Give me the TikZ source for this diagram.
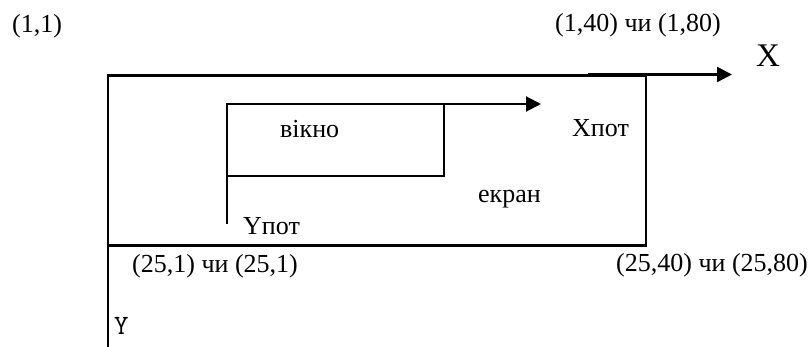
\documentclass[tikz,border=0pt]{standalone}
\usepackage{fontspec}
\setmainfont{Liberation Serif}
\usetikzlibrary{arrows.meta}
\begin{document}
\begin{tikzpicture}[x=1pt,y=-1pt,
  lbl/.style={anchor=base west,inner sep=0pt,font=\fontsize{26}{30}\selectfont},
  bigl/.style={anchor=base west,inner sep=0pt,font=\fontsize{33}{38}\selectfont},
  monol/.style={anchor=base west,inner sep=0pt,font=\ttfamily\fontsize{28}{32}\selectfont},
  frame/.style={line width=2.6pt},
  win/.style={line width=2pt},
  axis/.style={line width=2.4pt,-{Triangle[length=15pt,width=15pt]}},
  waxis/.style={line width=2pt,-{Triangle[length=15pt,width=15pt]}}]
\useasboundingbox (0,0) rectangle (812,347);

% screen corners and global axes
\coordinate (stl) at (108,75.5);
\coordinate (str) at (646,75.5);
\coordinate (sbr) at (646,245.5);
\coordinate (sbl) at (108,245.5);
\coordinate (ybot) at (108,347);
\coordinate (xs) at (588,74.5);
\coordinate (xe) at (732,74.5);

% window corners and local axes
\coordinate (wtl) at (227,104);
\coordinate (wtr) at (444,104);
\coordinate (wbr) at (444,176);
\coordinate (wbl) at (227,176);
\coordinate (wy) at (227,224);
\coordinate (wx) at (541,104);

% screen
\draw[frame] (stl) -- (str) -- (sbr) -- (sbl) -- cycle;
\draw[frame] (sbl) -- (ybot);
\draw[axis] (xs) -- (xe);

% window
\draw[win] (wtr) -- (wtl) -- (wbl) -- (wbr) -- cycle;
\draw[win] (wbl) -- (wy);
\draw[waxis] (wtr) -- (wx);

% labels
\node[lbl] (c11) at (12,33) {(1,1)};
\node[lbl] (c140) at (555,32) {(1,40) чи (1,80)};
\node[bigl] (lx) at (756,67) {X};
\node[lbl] (lwin) at (280,138) {вікно};
\node[lbl] (lxp) at (572,137) {Xпот};
\node[lbl] (lscr) at (478,203) {екран};
\node[lbl] (lyp) at (243,235) {Yпот};
\node[lbl] (c251) at (132,273) {(25,1) чи (25,1)};
\node[lbl] (c2540) at (616,272) {(25,40) чи (25,80)};
\node[monol] (ly) at (114,335) {Y};
\end{tikzpicture}
\end{document}
